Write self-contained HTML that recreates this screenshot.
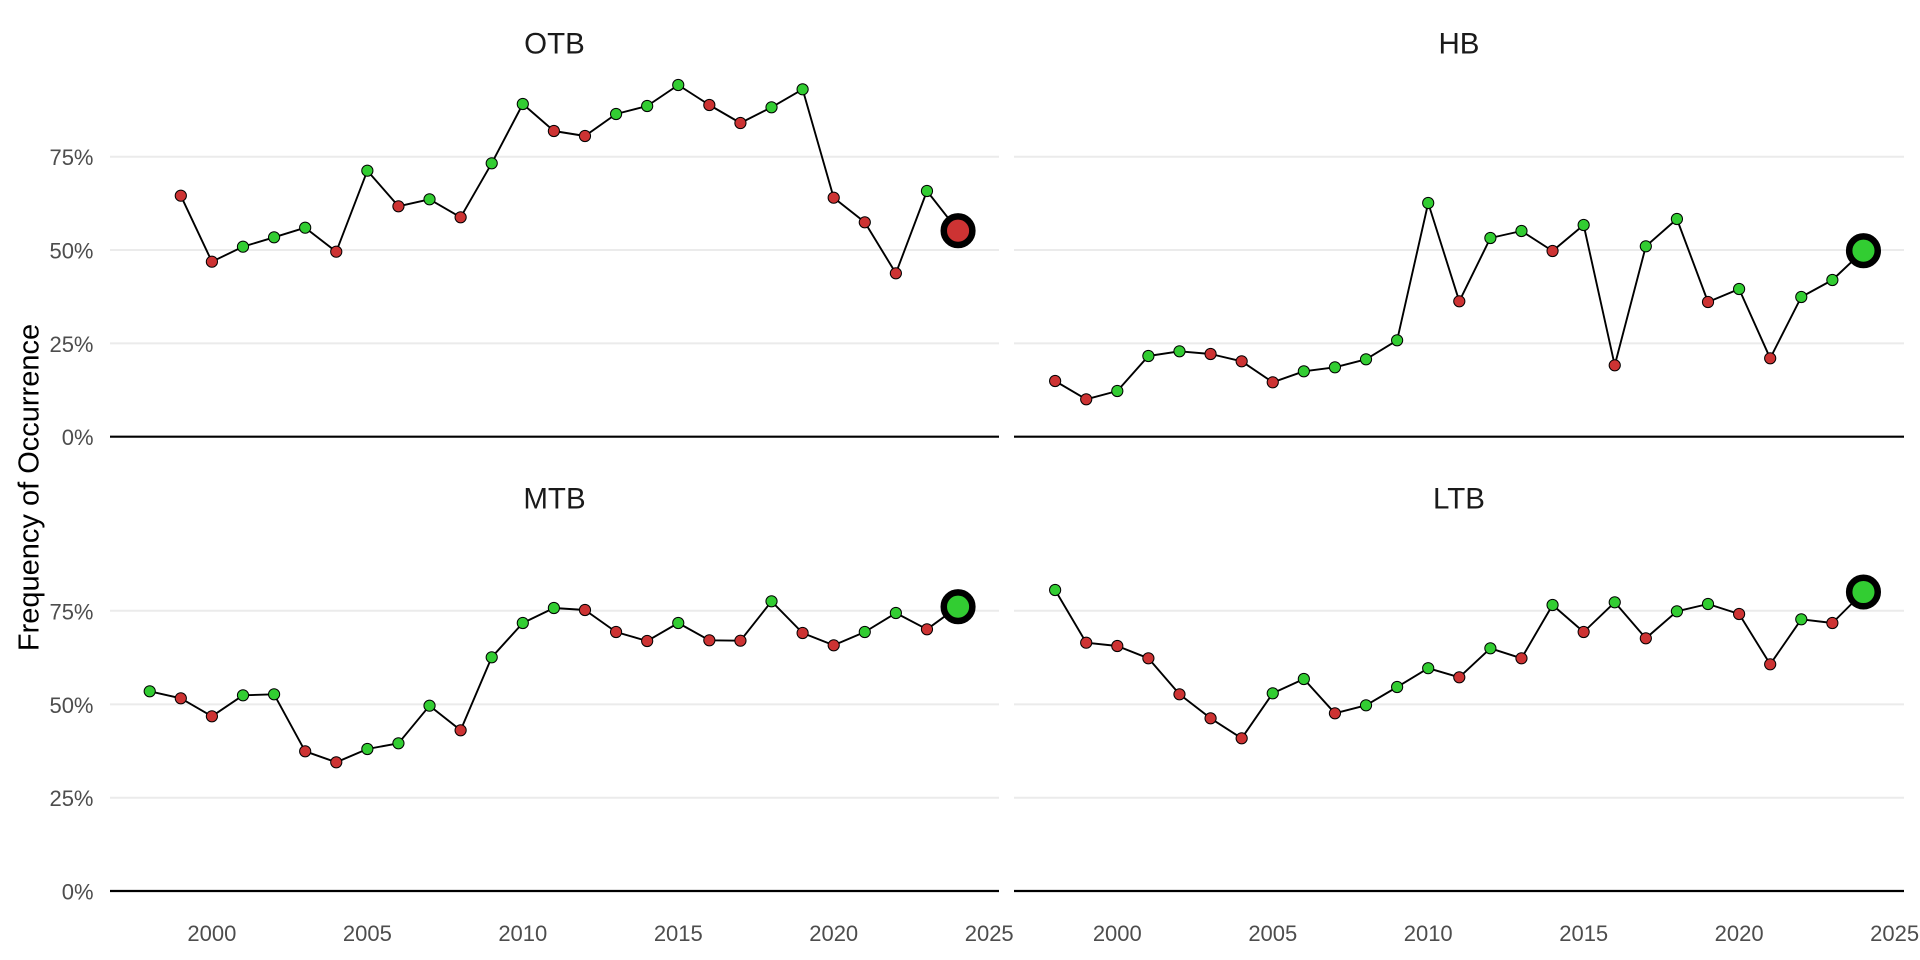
<!DOCTYPE html>
<html><head><meta charset="utf-8"><style>
html,body{margin:0;padding:0;background:#fff;}
svg{display:block;}
.ax{font-family:"Liberation Sans",Arial,sans-serif;font-size:22px;fill:#4D4D4D;}
.st{font-family:"Liberation Sans",Arial,sans-serif;font-size:29.5px;fill:#1A1A1A;}
.yt{font-family:"Liberation Sans",Arial,sans-serif;font-size:29px;fill:#000;}
.g{stroke:#EBEBEB;stroke-width:2;}
.z{stroke:#000;stroke-width:2.2;}
.ln{fill:none;stroke:#000;stroke-width:1.9;stroke-linejoin:round;}
.R{fill:#CD3333;stroke:#000;stroke-width:1;}
.G{fill:#32CD32;stroke:#000;stroke-width:1;}
.bR{fill:#CD3333;stroke:#000;stroke-width:6.5;}
.bG{fill:#32CD32;stroke:#000;stroke-width:6.5;}
</style></head><body>
<svg width="1920" height="960" viewBox="0 0 1920 960" xmlns="http://www.w3.org/2000/svg">
<rect width="1920" height="960" fill="#fff"/>
<line class="g" x1="110" x2="999" y1="156.7" y2="156.7"/>
<line class="g" x1="110" x2="999" y1="250" y2="250"/>
<line class="g" x1="110" x2="999" y1="343.4" y2="343.4"/>
<line class="g" x1="1014" x2="1904" y1="156.7" y2="156.7"/>
<line class="g" x1="1014" x2="1904" y1="250" y2="250"/>
<line class="g" x1="1014" x2="1904" y1="343.4" y2="343.4"/>
<line class="g" x1="110" x2="999" y1="610.8" y2="610.8"/>
<line class="g" x1="110" x2="999" y1="704.4" y2="704.4"/>
<line class="g" x1="110" x2="999" y1="797.7" y2="797.7"/>
<line class="g" x1="1014" x2="1904" y1="610.8" y2="610.8"/>
<line class="g" x1="1014" x2="1904" y1="704.4" y2="704.4"/>
<line class="g" x1="1014" x2="1904" y1="797.7" y2="797.7"/>
<line class="z" x1="110" x2="999" y1="436.7" y2="436.7"/>
<line class="z" x1="1014" x2="1904" y1="436.7" y2="436.7"/>
<line class="z" x1="110" x2="999" y1="891" y2="891"/>
<line class="z" x1="1014" x2="1904" y1="891" y2="891"/>

<g class="ax" text-anchor="end">
<text x="93.5" y="165.2">75%</text>
<text x="93.5" y="258.5">50%</text>
<text x="93.5" y="351.9">25%</text>
<text x="93.5" y="445.2">0%</text>
<text x="93.5" y="619.3">75%</text>
<text x="93.5" y="712.9">50%</text>
<text x="93.5" y="806.2">25%</text>
<text x="93.5" y="899.5">0%</text>
</g>
<g class="ax" text-anchor="middle">
<text x="211.9" y="941">2000</text>
<text x="367.4" y="941">2005</text>
<text x="522.8" y="941">2010</text>
<text x="678.3" y="941">2015</text>
<text x="833.7" y="941">2020</text>
<text x="989.2" y="941">2025</text>
<text x="1117.3" y="941">2000</text>
<text x="1272.8" y="941">2005</text>
<text x="1428.2" y="941">2010</text>
<text x="1583.7" y="941">2015</text>
<text x="1739.1" y="941">2020</text>
<text x="1894.6" y="941">2025</text>
</g>
<g class="st" text-anchor="middle">
<text x="554.5" y="53.3">OTB</text>
<text x="1459" y="53.3">HB</text>
<text x="554.5" y="508.3">MTB</text>
<text x="1459" y="508.3">LTB</text>
</g>
<text class="yt" text-anchor="middle" transform="translate(38.5,487.5) rotate(-90)">Frequency of Occurrence</text>

<polyline class="ln" points="180.81,195.7 211.90,261.7 242.99,246.7 274.08,237.3 305.17,227.7 336.26,251.7 367.35,170.7 398.44,206.3 429.53,199.3 460.62,217.3 491.71,163.3 522.80,104 553.89,131 584.98,136 616.07,114 647.16,106 678.25,85 709.34,105 740.43,123 771.52,107.3 802.61,89.3 833.70,197.7 864.79,222.3 895.88,273.3 926.97,191 958.06,230.7"/>
<circle class="R" cx="180.81" cy="195.7" r="5.6"/>
<circle class="R" cx="211.90" cy="261.7" r="5.6"/>
<circle class="G" cx="242.99" cy="246.7" r="5.6"/>
<circle class="G" cx="274.08" cy="237.3" r="5.6"/>
<circle class="G" cx="305.17" cy="227.7" r="5.6"/>
<circle class="R" cx="336.26" cy="251.7" r="5.6"/>
<circle class="G" cx="367.35" cy="170.7" r="5.6"/>
<circle class="R" cx="398.44" cy="206.3" r="5.6"/>
<circle class="G" cx="429.53" cy="199.3" r="5.6"/>
<circle class="R" cx="460.62" cy="217.3" r="5.6"/>
<circle class="G" cx="491.71" cy="163.3" r="5.6"/>
<circle class="G" cx="522.80" cy="104" r="5.6"/>
<circle class="R" cx="553.89" cy="131" r="5.6"/>
<circle class="R" cx="584.98" cy="136" r="5.6"/>
<circle class="G" cx="616.07" cy="114" r="5.6"/>
<circle class="G" cx="647.16" cy="106" r="5.6"/>
<circle class="G" cx="678.25" cy="85" r="5.6"/>
<circle class="R" cx="709.34" cy="105" r="5.6"/>
<circle class="R" cx="740.43" cy="123" r="5.6"/>
<circle class="G" cx="771.52" cy="107.3" r="5.6"/>
<circle class="G" cx="802.61" cy="89.3" r="5.6"/>
<circle class="R" cx="833.70" cy="197.7" r="5.6"/>
<circle class="R" cx="864.79" cy="222.3" r="5.6"/>
<circle class="R" cx="895.88" cy="273.3" r="5.6"/>
<circle class="G" cx="926.97" cy="191" r="5.6"/>
<circle class="bR" cx="958.06" cy="230.7" r="14.3"/>

<polyline class="ln" points="1055.12,381 1086.21,399.3 1117.30,391 1148.39,356 1179.48,351.3 1210.57,354 1241.66,361.3 1272.75,382.3 1303.84,371.3 1334.93,367.3 1366.02,359.3 1397.11,340.3 1428.20,203 1459.29,301.3 1490.38,238 1521.47,231 1552.56,251 1583.65,225 1614.74,365.3 1645.83,246.3 1676.92,219 1708.01,302 1739.10,289 1770.19,358.3 1801.28,297 1832.37,280 1863.46,250.7"/>
<circle class="R" cx="1055.12" cy="381" r="5.6"/>
<circle class="R" cx="1086.21" cy="399.3" r="5.6"/>
<circle class="G" cx="1117.30" cy="391" r="5.6"/>
<circle class="G" cx="1148.39" cy="356" r="5.6"/>
<circle class="G" cx="1179.48" cy="351.3" r="5.6"/>
<circle class="R" cx="1210.57" cy="354" r="5.6"/>
<circle class="R" cx="1241.66" cy="361.3" r="5.6"/>
<circle class="R" cx="1272.75" cy="382.3" r="5.6"/>
<circle class="G" cx="1303.84" cy="371.3" r="5.6"/>
<circle class="G" cx="1334.93" cy="367.3" r="5.6"/>
<circle class="G" cx="1366.02" cy="359.3" r="5.6"/>
<circle class="G" cx="1397.11" cy="340.3" r="5.6"/>
<circle class="G" cx="1428.20" cy="203" r="5.6"/>
<circle class="R" cx="1459.29" cy="301.3" r="5.6"/>
<circle class="G" cx="1490.38" cy="238" r="5.6"/>
<circle class="G" cx="1521.47" cy="231" r="5.6"/>
<circle class="R" cx="1552.56" cy="251" r="5.6"/>
<circle class="G" cx="1583.65" cy="225" r="5.6"/>
<circle class="R" cx="1614.74" cy="365.3" r="5.6"/>
<circle class="G" cx="1645.83" cy="246.3" r="5.6"/>
<circle class="G" cx="1676.92" cy="219" r="5.6"/>
<circle class="R" cx="1708.01" cy="302" r="5.6"/>
<circle class="G" cx="1739.10" cy="289" r="5.6"/>
<circle class="R" cx="1770.19" cy="358.3" r="5.6"/>
<circle class="G" cx="1801.28" cy="297" r="5.6"/>
<circle class="G" cx="1832.37" cy="280" r="5.6"/>
<circle class="bG" cx="1863.46" cy="250.7" r="14.3"/>

<polyline class="ln" points="149.72,691.3 180.81,698.3 211.90,716.3 242.99,695.3 274.08,694.3 305.17,751.3 336.26,762.3 367.35,749 398.44,743.3 429.53,705.7 460.62,730.3 491.71,657.3 522.80,623 553.89,608 584.98,610 616.07,632 647.16,641 678.25,623 709.34,640.3 740.43,640.7 771.52,601.3 802.61,633 833.70,645.3 864.79,632 895.88,613 926.97,629.3 958.06,606.7"/>
<circle class="G" cx="149.72" cy="691.3" r="5.6"/>
<circle class="R" cx="180.81" cy="698.3" r="5.6"/>
<circle class="R" cx="211.90" cy="716.3" r="5.6"/>
<circle class="G" cx="242.99" cy="695.3" r="5.6"/>
<circle class="G" cx="274.08" cy="694.3" r="5.6"/>
<circle class="R" cx="305.17" cy="751.3" r="5.6"/>
<circle class="R" cx="336.26" cy="762.3" r="5.6"/>
<circle class="G" cx="367.35" cy="749" r="5.6"/>
<circle class="G" cx="398.44" cy="743.3" r="5.6"/>
<circle class="G" cx="429.53" cy="705.7" r="5.6"/>
<circle class="R" cx="460.62" cy="730.3" r="5.6"/>
<circle class="G" cx="491.71" cy="657.3" r="5.6"/>
<circle class="G" cx="522.80" cy="623" r="5.6"/>
<circle class="G" cx="553.89" cy="608" r="5.6"/>
<circle class="R" cx="584.98" cy="610" r="5.6"/>
<circle class="R" cx="616.07" cy="632" r="5.6"/>
<circle class="R" cx="647.16" cy="641" r="5.6"/>
<circle class="G" cx="678.25" cy="623" r="5.6"/>
<circle class="R" cx="709.34" cy="640.3" r="5.6"/>
<circle class="R" cx="740.43" cy="640.7" r="5.6"/>
<circle class="G" cx="771.52" cy="601.3" r="5.6"/>
<circle class="R" cx="802.61" cy="633" r="5.6"/>
<circle class="R" cx="833.70" cy="645.3" r="5.6"/>
<circle class="G" cx="864.79" cy="632" r="5.6"/>
<circle class="G" cx="895.88" cy="613" r="5.6"/>
<circle class="R" cx="926.97" cy="629.3" r="5.6"/>
<circle class="bG" cx="958.06" cy="606.7" r="14.3"/>

<polyline class="ln" points="1055.12,590 1086.21,642.7 1117.30,646 1148.39,658.3 1179.48,694.3 1210.57,718.3 1241.66,738.3 1272.75,693.3 1303.84,679 1334.93,713.3 1366.02,705.3 1397.11,687 1428.20,668.2 1459.29,677.3 1490.38,648.3 1521.47,658.3 1552.56,605 1583.65,632 1614.74,602.3 1645.83,638.3 1676.92,611.3 1708.01,604 1739.10,614 1770.19,664.3 1801.28,619.3 1832.37,623 1863.46,592"/>
<circle class="G" cx="1055.12" cy="590" r="5.6"/>
<circle class="R" cx="1086.21" cy="642.7" r="5.6"/>
<circle class="R" cx="1117.30" cy="646" r="5.6"/>
<circle class="R" cx="1148.39" cy="658.3" r="5.6"/>
<circle class="R" cx="1179.48" cy="694.3" r="5.6"/>
<circle class="R" cx="1210.57" cy="718.3" r="5.6"/>
<circle class="R" cx="1241.66" cy="738.3" r="5.6"/>
<circle class="G" cx="1272.75" cy="693.3" r="5.6"/>
<circle class="G" cx="1303.84" cy="679" r="5.6"/>
<circle class="R" cx="1334.93" cy="713.3" r="5.6"/>
<circle class="G" cx="1366.02" cy="705.3" r="5.6"/>
<circle class="G" cx="1397.11" cy="687" r="5.6"/>
<circle class="G" cx="1428.20" cy="668.2" r="5.6"/>
<circle class="R" cx="1459.29" cy="677.3" r="5.6"/>
<circle class="G" cx="1490.38" cy="648.3" r="5.6"/>
<circle class="R" cx="1521.47" cy="658.3" r="5.6"/>
<circle class="G" cx="1552.56" cy="605" r="5.6"/>
<circle class="R" cx="1583.65" cy="632" r="5.6"/>
<circle class="G" cx="1614.74" cy="602.3" r="5.6"/>
<circle class="R" cx="1645.83" cy="638.3" r="5.6"/>
<circle class="G" cx="1676.92" cy="611.3" r="5.6"/>
<circle class="G" cx="1708.01" cy="604" r="5.6"/>
<circle class="R" cx="1739.10" cy="614" r="5.6"/>
<circle class="R" cx="1770.19" cy="664.3" r="5.6"/>
<circle class="G" cx="1801.28" cy="619.3" r="5.6"/>
<circle class="R" cx="1832.37" cy="623" r="5.6"/>
<circle class="bG" cx="1863.46" cy="592" r="14.3"/>
</svg>
</body></html>
